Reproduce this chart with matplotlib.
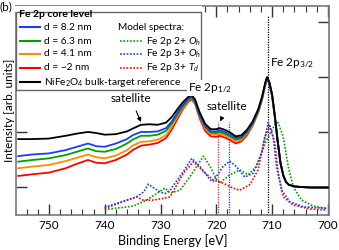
import matplotlib
matplotlib.use("Agg")
import matplotlib.pyplot as plt
from matplotlib.lines import Line2D
from matplotlib.patches import Rectangle
from matplotlib.ticker import MultipleLocator, FixedLocator

plt.rcParams['font.family'] = ['Lato', 'DejaVu Sans']
plt.rcParams['mathtext.fontset'] = 'custom'
plt.rcParams['mathtext.rm'] = 'Lato'
plt.rcParams['mathtext.it'] = 'Lato:italic'

# ---------------- data ----------------
E_exp = [755.5, 753, 750, 747, 745, 743, 741.5, 740, 738, 736, 735, 733.5, 732,
         730.5, 729, 728, 727, 726, 725, 724.4, 723.8, 723, 722, 721, 720, 719.4,
         718.5, 717.5, 716.5, 715.5, 714.5, 713.5, 712.5, 711.8, 711.2, 710.9,
         710.5, 710, 709.5, 709, 708.5, 708, 707.5, 707, 706, 705, 703, 701, 700]

I_ref = [1.38, 1.38, 1.39, 1.44, 1.48, 1.51, 1.49, 1.46, 1.47, 1.52, 1.57, 1.64, 1.65,
         1.64, 1.68, 1.78, 1.92, 2.05, 2.15, 2.18, 2.10, 1.87, 1.66, 1.56, 1.56, 1.58,
         1.55, 1.50, 1.43, 1.45, 1.55, 1.70, 1.92, 2.15, 2.42, 2.51,
         2.42, 2.20, 1.80, 1.35, 0.95, 0.72, 0.60, 0.55, 0.52, 0.51, 0.50, 0.50, 0.50]
I_82 = [1.07, 1.10, 1.12, 1.18, 1.24, 1.30, 1.25, 1.24, 1.30, 1.38, 1.45, 1.51, 1.51,
        1.52, 1.58, 1.70, 1.86, 2.00, 2.12, 2.15, 2.07, 1.83, 1.62, 1.52, 1.52, 1.54,
        1.51, 1.46, 1.40, 1.42, 1.52, 1.67, 1.90, 2.13, 2.40, 2.50,
        2.41, 2.18, 1.79, 1.34, 0.95, 0.72, 0.60, 0.55, 0.52, 0.51, 0.50, 0.50, 0.50]
I_63 = [0.97, 1.00, 1.03, 1.09, 1.15, 1.21, 1.16, 1.15, 1.20, 1.30, 1.37, 1.44, 1.44,
        1.46, 1.53, 1.66, 1.82, 1.97, 2.10, 2.13, 2.05, 1.81, 1.60, 1.50, 1.49, 1.51,
        1.48, 1.43, 1.37, 1.40, 1.50, 1.65, 1.88, 2.12, 2.39, 2.49,
        2.40, 2.17, 1.78, 1.34, 0.95, 0.72, 0.60, 0.55, 0.52, 0.51, 0.50, 0.50, 0.50]
I_41 = [0.85, 0.88, 0.91, 0.98, 1.04, 1.10, 1.05, 1.03, 1.08, 1.18, 1.26, 1.33, 1.34,
        1.37, 1.45, 1.60, 1.78, 1.94, 2.08, 2.12, 2.04, 1.79, 1.57, 1.47, 1.46, 1.48,
        1.45, 1.40, 1.34, 1.37, 1.48, 1.63, 1.87, 2.11, 2.38, 2.49,
        2.40, 2.17, 1.78, 1.33, 0.94, 0.72, 0.60, 0.55, 0.52, 0.51, 0.50, 0.50, 0.50]
I_2 = [0.71, 0.74, 0.77, 0.85, 0.93, 1.00, 0.95, 0.94, 1.00, 1.10, 1.18, 1.26, 1.28,
       1.31, 1.40, 1.55, 1.74, 1.92, 2.06, 2.10, 2.02, 1.76, 1.53, 1.43, 1.42, 1.44,
       1.41, 1.36, 1.30, 1.34, 1.45, 1.62, 1.86, 2.10, 2.37, 2.48,
       2.39, 2.16, 1.77, 1.33, 0.94, 0.72, 0.60, 0.55, 0.52, 0.51, 0.50, 0.50, 0.50]

# model spectra
E_m2oh = [740.0, 734.9, 732.5, 730.7, 729.2, 728.3, 726.5, 724.7, 722.3, 721.1, 719.9,
          719.4, 717.6, 715.8, 714.3, 712.8, 711.0, 709.5, 708.9, 708.0, 707.1, 706.2,
          704.7, 702.6, 700.2]
I_m2oh = [0.10, 0.16, 0.27, 0.39, 0.49, 0.40, 0.45, 0.70, 1.07, 0.88, 0.64,
          0.58, 0.73, 0.82, 0.73, 0.88, 1.36, 1.64, 1.68, 1.42, 0.88, 0.51,
          0.27, 0.16, 0.12]
E_m3oh = [740.0, 734.3, 733.0, 732.2, 730.1, 729.2, 728.3, 725.9, 724.4, 722.9, 721.1,
          720.6, 718.8, 717.6, 716.4, 714.9, 713.4, 711.9, 710.7, 709.8, 709.2, 708.3,
          706.8, 704.4, 700.2]
I_m3oh = [0.14, 0.33, 0.42, 0.56, 0.42, 0.39, 0.45, 0.79, 1.03, 0.88, 0.64,
          0.61, 0.88, 0.98, 0.88, 0.69, 0.76, 1.12, 1.68, 1.42, 0.88, 0.45,
          0.24, 0.15, 0.12]
E_m3td = [740.0, 734.3, 733.1, 731.4, 729.6, 728.3, 725.9, 724.1, 722.3, 720.6, 718.8,
          717.0, 715.8, 714.0, 712.5, 711.3, 710.4, 709.5, 708.9, 708.0, 706.2, 703.2,
          700.2]
I_m3td = [0.12, 0.33, 0.27, 0.27, 0.30, 0.33, 0.76, 0.97, 0.79, 0.64, 0.58,
          0.49, 0.45, 0.55, 0.82, 1.42, 1.62, 1.30, 0.76, 0.33, 0.18, 0.11,
          0.09]

ref_E = [710.8, 719.7, 717.7]
ref_top = [3.64, 1.70, 1.70]
ref_col = ['black', '#ff2020', '#2040ff']

exp_labels = ['d = 8.2 nm', 'd = 6.3 nm', 'd = 4.1 nm', 'd = ~2 nm',
              'NiFe$_2$O$_4$ bulk-target reference']
model_labels = ['Fe 2p 2+ $\\mathit{O_h}$', 'Fe 2p 3+ $\\mathit{O_h}$', 'Fe 2p 3+ $\\mathit{T_d}$']

c_blue, c_green, c_orange, c_red, c_black = '#1a3cff', '#00a000', '#ff8c00', '#ff0000', '#000000'

W, H = 339, 250
fig = plt.figure(figsize=(W / 100, H / 100), dpi=100)

def P(px, py):
    return (px / W, 1 - py / H)

ax = fig.add_axes([16 / W, 1 - 215 / H, (329 - 16) / W, (215 - 6) / H])
ax.set_xlim(755.9, 699.8)
ax.set_ylim(0, 3.8)

lw = 1.3
for I, c in [(I_2, c_red), (I_41, c_orange), (I_63, c_green), (I_82, c_blue), (I_ref, c_black)]:
    ax.plot(E_exp, I, color=c, lw=lw, zorder=3)

dot = (0, (1, 1))
ax.plot(E_m2oh, I_m2oh, color=c_green, lw=1.2, ls=dot, zorder=2)
ax.plot(E_m3td, I_m3td, color=c_red, lw=1.2, ls=dot, zorder=2)
ax.plot(E_m3oh, I_m3oh, color=c_blue, lw=1.2, ls=dot, zorder=2)

for e, t, c in zip(ref_E, ref_top, ref_col):
    ax.vlines(e, 0, t, colors=c, lw=0.9, linestyles=dot, zorder=1)

# ticks
ax.xaxis.set_major_locator(MultipleLocator(10))
ax.xaxis.set_minor_locator(MultipleLocator(2))
ax.yaxis.set_major_locator(FixedLocator([0.51, 1.51, 2.51, 3.51]))
ax.tick_params(which='both', direction='in', top=True, right=True, colors='#333333',
               labelsize=8.5, labelcolor='black')
ax.tick_params(which='major', length=8, width=1)
ax.tick_params(which='minor', length=4, width=0.8)
ax.tick_params(axis='y', labelleft=False)
for s in ax.spines.values():
    s.set_color('#777777')
    s.set_linewidth(1.2)

ax.set_xlabel('Binding Energy [eV]', fontsize=9, labelpad=2)
ax.set_ylabel('Intensity [arb. units]', fontsize=8.5, labelpad=1)

# annotations
ax.text(710.4, 2.76, 'Fe 2p$_{3/2}$', fontsize=8.5, ha='left', va='center', zorder=6)
ax.annotate('satellite', xy=(733.5, 1.69), xytext=(735.3, 2.11), fontsize=8.5,
            ha='center', va='center',
            arrowprops=dict(arrowstyle='-|>', color='black', lw=0.8, mutation_scale=6,
                            shrinkA=3, shrinkB=0), zorder=6)
ax.annotate('satellite', xy=(719.3, 1.70), xytext=(718.1, 1.97), fontsize=8.5,
            ha='center', va='center',
            arrowprops=dict(arrowstyle='-|>', color='black', lw=0.8, mutation_scale=6,
                            shrinkA=3, shrinkB=0), zorder=6)

# legend box (covers top spine on the left)
fig.add_artist(Rectangle(P(15, 11.5), 187 / W, 5.5 / H, transform=fig.transFigure,
                         facecolor='white', edgecolor='none', zorder=5))
fig.add_artist(Rectangle(P(16, 90), (201 - 16) / W, (90 - 12) / H,
                         transform=fig.transFigure, facecolor='white',
                         edgecolor='#666666', lw=1.0, zorder=5))
fig.text(*P(19, 14.5), 'Fe 2p core level', fontsize=7.5, fontweight='bold',
         ha='left', va='center', zorder=6)
ys = [27, 41, 54, 68, 82]
fs = 7.3
for y, lab, c in zip(ys, exp_labels, [c_blue, c_green, c_orange, c_red, c_black]):
    fig.add_artist(Line2D([20 / W, 40 / W], [1 - y / H] * 2, color=c, lw=1.5,
                          transform=fig.transFigure, zorder=6))
    fig.text(*P(44, y), lab, fontsize=fs, ha='left', va='center', zorder=6)
fig.text(*P(118, 27), 'Model spectra:', fontsize=fs, ha='left', va='center', zorder=6)
for y, lab, c in zip(ys[1:4], model_labels, [c_green, c_blue, c_red]):
    fig.add_artist(Line2D([120 / W, 143 / W], [1 - y / H] * 2, color=c, lw=1.2, ls=dot,
                          transform=fig.transFigure, zorder=6))
    fig.text(*P(146, y), lab, fontsize=fs, ha='left', va='center', zorder=6)

fig.text(*P(188, 88), 'Fe 2p$_{1/2}$', fontsize=8.5, ha='left', va='center', zorder=7,
         bbox=dict(facecolor='white', edgecolor='none', pad=0.5))
fig.text(*P(0, 7), '(b)', fontsize=8.5, ha='left', va='center', zorder=7)

fig.savefig('out.png', dpi=100)
